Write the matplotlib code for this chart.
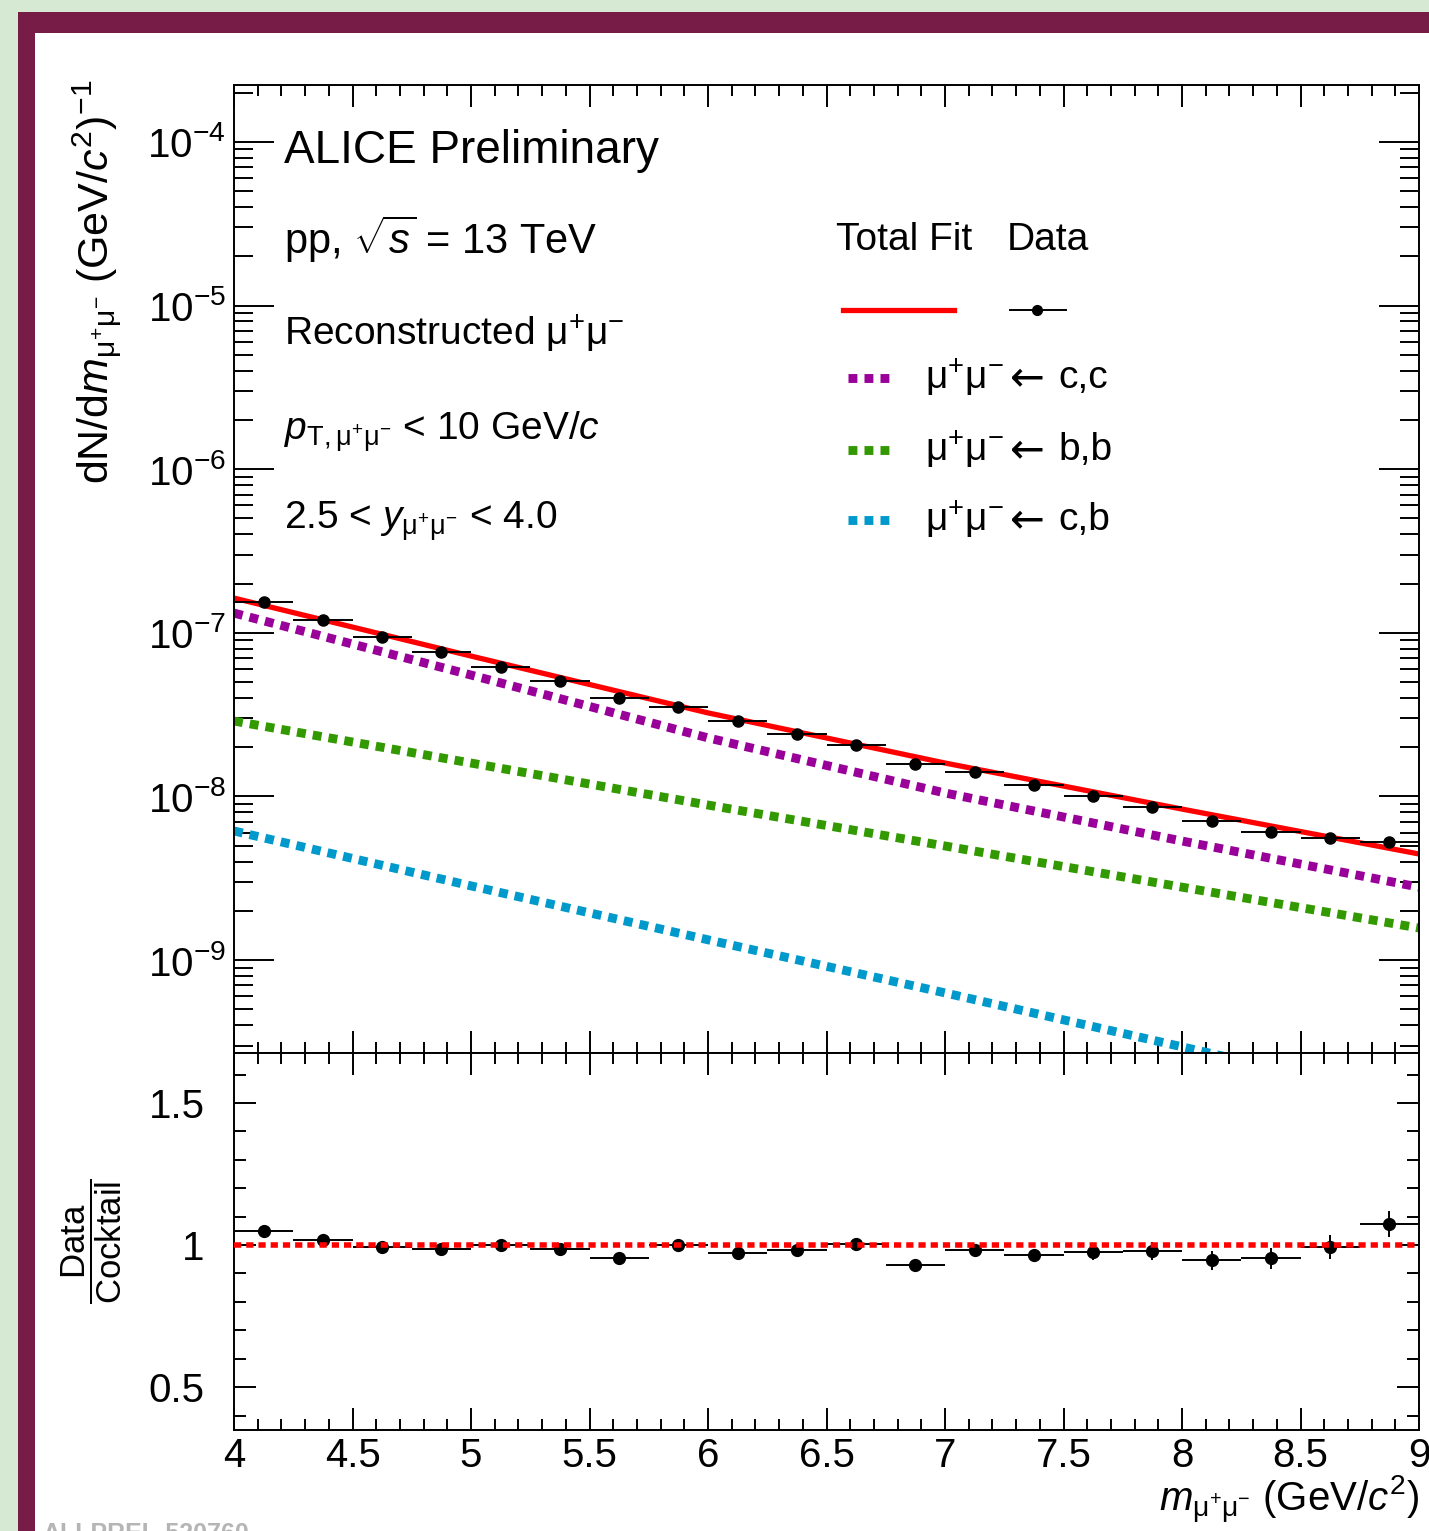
import matplotlib
matplotlib.use("Agg")
import matplotlib.pyplot as plt
import matplotlib.ticker as ticker
from matplotlib.patches import Rectangle

plt.rcParams['font.family'] = ['Liberation Sans', 'DejaVu Sans']
plt.rcParams['mathtext.fontset'] = 'custom'
plt.rcParams['mathtext.rm'] = 'Liberation Sans'
plt.rcParams['mathtext.it'] = 'Liberation Sans:italic'
plt.rcParams['mathtext.bf'] = 'Liberation Sans:bold'

# ---- data ----
bin_centers = [4.125, 4.375, 4.625, 4.875, 5.125, 5.375, 5.625, 5.875, 6.125, 6.375,
               6.625, 6.875, 7.125, 7.375, 7.625, 7.875, 8.125, 8.375, 8.625, 8.875]
bin_halfwidth = 0.125
data_yield = [1.55e-7, 1.20e-7, 9.39e-8, 7.60e-8, 6.21e-8, 5.07e-8, 4.01e-8, 3.51e-8,
              2.89e-8, 2.41e-8, 2.06e-8, 1.58e-8, 1.41e-8, 1.17e-8, 1.00e-8, 8.61e-9,
              7.08e-9, 6.05e-9, 5.57e-9, 5.23e-9]
ratio = [1.050, 1.018, 0.993, 0.987, 0.999, 0.985, 0.953, 0.999, 0.973, 0.981,
         1.005, 0.930, 0.981, 0.964, 0.975, 0.979, 0.946, 0.953, 0.994, 1.073]
ratio_err = [0.006, 0.006, 0.007, 0.008, 0.009, 0.010, 0.011, 0.012, 0.013, 0.014,
             0.016, 0.018, 0.020, 0.022, 0.026, 0.030, 0.034, 0.038, 0.042, 0.046]

curve_m = [4, 5, 6, 7, 8, 9]
total_fit = [1.63e-7, 7.21e-8, 3.24e-8, 1.60e-8, 8.37e-9, 4.45e-9]
cc_fit = [1.32e-7, 5.52e-8, 2.28e-8, 1.05e-8, 5.34e-9, 2.79e-9]
bb_fit = [2.89e-8, 1.60e-8, 8.86e-9, 4.98e-9, 2.79e-9, 1.57e-9]
cb_fit = [6.15e-9, 2.84e-9, 1.33e-9, 6.3e-10, 2.95e-10, 1.38e-10]

RED = '#ff0000'
PURPLE = '#990099'
GREEN = '#339900'
BLUE = '#0099cc'

W, H = 1429, 1531
fig = plt.figure(figsize=(W / 100, H / 100), dpi=100, facecolor='#d6e9d2')

# frame
fig.patches.append(Rectangle((18 / W, -0.1), 1.2, 0.1 + 1 - 12 / H, transform=fig.transFigure,
                             facecolor='#761c47', edgecolor='none', zorder=-10))
fig.patches.append(Rectangle((35 / W, -0.1), 1.2, 0.1 + 1 - 33 / H, transform=fig.transFigure,
                             facecolor='white', edgecolor='none', zorder=-9))

ax = fig.add_axes([234 / W, 1 - 1053 / H, 1185 / W, 968 / H])
axr = fig.add_axes([234 / W, 1 - 1430 / H, 1185 / W, 377 / H], sharex=ax)

dot = (0, (1, 0.8))
LW_DOT = 6.4

# main panel
ax.plot(curve_m, cc_fit, color=PURPLE, lw=LW_DOT, ls=dot, dash_capstyle='butt')
ax.plot(curve_m, bb_fit, color=GREEN, lw=LW_DOT, ls=dot, dash_capstyle='butt')
ax.plot(curve_m, cb_fit, color=BLUE, lw=LW_DOT, ls=dot, dash_capstyle='butt')
ax.plot(curve_m, total_fit, color=RED, lw=3.8)
ax.errorbar(bin_centers, data_yield, xerr=bin_halfwidth, fmt='o', color='black',
            ms=8, elinewidth=1.4, capsize=0, zorder=5)

ax.set_yscale('log')
ax.set_xlim(4, 9)
ax.set_ylim(10 ** -9.568, 10 ** -3.652)
ax.yaxis.set_major_locator(ticker.LogLocator(base=10, numticks=20))
ax.yaxis.set_minor_locator(ticker.LogLocator(base=10, subs=range(2, 10), numticks=100))
ax.yaxis.set_minor_formatter(ticker.NullFormatter())
ax.xaxis.set_major_locator(ticker.MultipleLocator(0.5))
ax.xaxis.set_minor_locator(ticker.MultipleLocator(0.1))

for a in (ax, axr):
    for s in a.spines.values():
        s.set_linewidth(1.4)
    a.tick_params(which='both', direction='in', top=True, right=True, width=1.4)
    a.tick_params(axis='x', which='major', length=16)
    a.tick_params(axis='x', which='minor', length=8)

ax.tick_params(axis='x', labelbottom=False)
ax.tick_params(axis='y', which='major', length=29, labelsize=29, pad=6)
ax.tick_params(axis='y', which='minor', length=14)

# ratio panel
axr.axhline(1.0, color=RED, lw=4.0, ls=(0, (1.3, 0.9)), dash_capstyle='butt', zorder=6)
axr.errorbar(bin_centers, ratio, xerr=bin_halfwidth, yerr=ratio_err, fmt='o', color='black',
             ms=8.5, elinewidth=1.4, capsize=0, zorder=5)
axr.set_ylim(0.349, 1.676)
axr.yaxis.set_major_locator(ticker.MultipleLocator(0.5))
axr.yaxis.set_minor_locator(ticker.MultipleLocator(0.1))
axr.yaxis.set_major_formatter(ticker.FormatStrFormatter('%g'))
axr.xaxis.set_major_formatter(ticker.FormatStrFormatter('%g'))
axr.tick_params(axis='y', which='major', length=16, labelsize=29, pad=21)
axr.tick_params(axis='y', which='minor', length=8.6)
axr.tick_params(axis='x', labelsize=29, pad=5)

# axis titles
fig.text(97 / W, 1 - 80 / H,
         r'dN/d$m_{\mathrm{\mu^{+}\mu^{-}}}$ (GeV/$c^{2}$)$^{-1}$',
         rotation=90, ha='center', va='top', fontsize=31)
fig.text(92 / W, 1 - 1241 / H, r'$\dfrac{\mathrm{Data}}{\mathrm{Cocktail}}$',
         rotation=90, ha='center', va='center', fontsize=25)
fig.text(1419 / W, 1 - 1500 / H, r'$m_{\mathrm{\mu^{+}\mu^{-}}}$ (GeV/$c^{2}$)',
         ha='right', va='center', fontsize=29)
fig.text(42 / W, 1 - 1522 / H, 'ALI-PREL-520760', ha='left', va='top',
         fontsize=18, color='#b5b5b5', fontweight='bold')

# labels on the plot
tx = (284 - 234) / 1185
ax.text(tx, 0.919, 'ALICE Preliminary', transform=ax.transAxes, fontsize=33, va='baseline')
ax.text(tx, 0.825, r'pp, $\sqrt{s}$ = 13 TeV', transform=ax.transAxes, fontsize=30, va='baseline')
ax.text(tx, 0.731, r'Reconstructed $\mathrm{\mu^{+}\mu^{-}}$', transform=ax.transAxes,
        fontsize=28, va='baseline')
ax.text(tx, 0.633, r'$p_{\mathrm{T,\mu^{+}\mu^{-}}}$ < 10 GeV/$c$', transform=ax.transAxes,
        fontsize=28, va='baseline')
ax.text(tx, 0.541, r'2.5 < $y_{\mathrm{\mu^{+}\mu^{-}}}$ < 4.0', transform=ax.transAxes,
        fontsize=28, va='baseline')

# legend drawn by hand
ax.text(0.508, 0.8295, 'Total Fit', transform=ax.transAxes, fontsize=28, va='baseline')
ax.text(0.652, 0.8295, 'Data', transform=ax.transAxes, fontsize=28, va='baseline')
ax.plot([0.514, 0.608], [0.7676, 0.7676], color=RED, lw=3.8, transform=ax.transAxes)
ax.plot([0.655, 0.702], [0.7676, 0.7676], color='black', lw=1.4, transform=ax.transAxes)
ax.plot([0.678], [0.7676], 'o', color='black', ms=7, transform=ax.transAxes)
legend_rows = [(PURPLE, 'c,c', 0.697), (GREEN, 'b,b', 0.623), (BLUE, 'c,b', 0.5506)]
for col, lab, yy in legend_rows:
    ax.plot([0.518, 0.553], [yy, yy], color=col, lw=LW_DOT, ls=dot, dash_capstyle='butt',
            transform=ax.transAxes)
    ax.text(0.583, yy, r'$\mathrm{\mu^{+}\mu^{-}}$', transform=ax.transAxes,
            fontsize=28, va='center')
    ax.text(0.655, yy, '\u2190', transform=ax.transAxes, fontsize=30, va='center',
            family=['DejaVu Sans'])
    ax.text(0.696, yy, lab, transform=ax.transAxes, fontsize=28, va='center')

fig.savefig('out.png', dpi=100, facecolor=fig.get_facecolor())
